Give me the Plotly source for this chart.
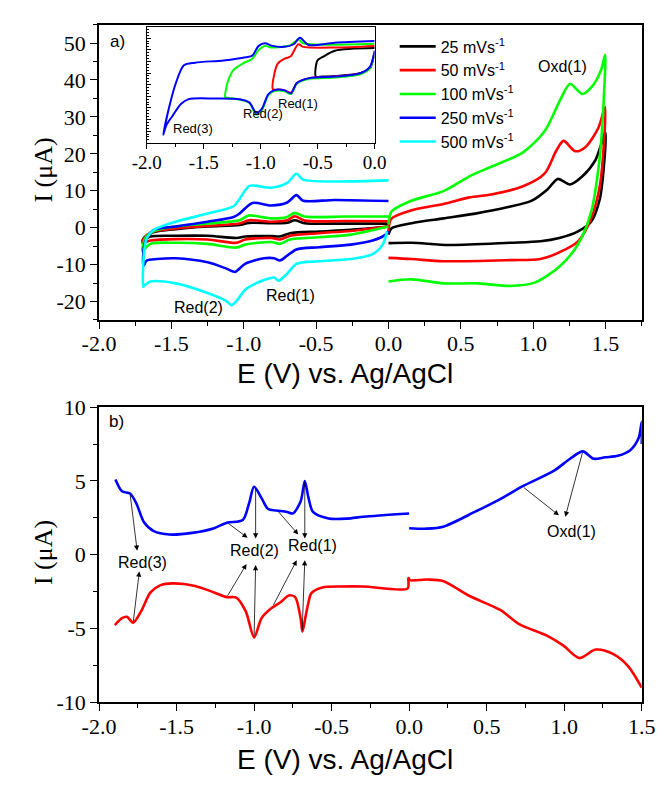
import plotly.graph_objects as go

# ---------------- DATA ----------------
# Panel a) main CVs: left part (0 -> -1.7 -> 0), right part (0 -> 1.5 -> 0)
E_L = [0.0, -0.3, -0.58, -0.647, -0.70, -0.81, -0.965, -1.03, -1.25, -1.47, -1.62, -1.68, -1.70,
       -1.645, -1.47, -1.25, -1.05, -0.99, -0.81, -0.75, -0.68, -0.48, -0.26, 0.0]
I_L_25 = [1.1, 1.1, 1.2, 2.0, 1.3, 1.2, 1.3, 0.7, 0.3, -0.4, -1.2, -2.4, -3.5,
          -2.4, -2.2, -2.2, -2.8, -2.4, -2.3, -2.4, -1.5, -1.05, -0.6, 0.3]
I_L_50 = [1.75, 1.8, 1.9, 3.1, 2.0, 1.6, 2.0, 1.1, 0.5, -0.2, -1.0, -2.4, -4.1,
          -3.5, -3.1, -3.2, -4.1, -3.2, -2.8, -3.2, -2.2, -1.5, -0.9, 0.3]
I_L_100 = [3.0, 3.0, 3.0, 4.0, 2.9, 2.5, 3.3, 2.0, 1.1, 0.3, -0.9, -2.8, -6.3,
           -4.4, -4.1, -4.4, -5.4, -4.6, -3.9, -4.4, -3.2, -2.6, -1.9, 0.3]

E_L_250 = [0.0, -0.37, -0.59, -0.636, -0.70, -0.81, -0.94, -1.03, -1.07, -1.25, -1.47, -1.62, -1.67, -1.69,
           -1.693, -1.67, -1.60, -1.47, -1.25, -1.12, -1.06, -1.03, -0.99, -0.86, -0.79, -0.75, -0.70,
           -0.636, -0.48, -0.26, -0.11, -0.02, 0.0]
I_L_250 = [7.2, 7.5, 7.3, 8.8, 6.8, 6.0, 6.7, 3.8, 2.9, 1.6, 0.3, -0.6, -2.8, -5.4,
           -10.3, -8.9, -8.5, -8.3, -9.4, -11.1, -12.0, -11.1, -9.8, -8.3, -8.3, -8.9, -7.6,
           -5.9, -5.3, -4.6, -3.5, -1.9, -1.0]

E_L_500 = [0.0, -0.373, -0.59, -0.636, -0.70, -0.81, -0.96, -1.03, -1.07, -1.25, -1.47, -1.62, -1.67, -1.69,
           -1.695, -1.69, -1.645, -1.47, -1.25, -1.12, -1.085, -1.05, -0.99, -0.86, -0.79, -0.76, -0.70,
           -0.636, -0.48, -0.26, -0.11, -0.04, -0.01]
I_L_500 = [12.8, 12.5, 13.0, 14.6, 12.1, 10.8, 11.3, 7.7, 5.8, 3.8, 1.6, -0.6, -2.8, -7.2,
           -16.0, -15.8, -14.6, -15.1, -17.7, -19.9, -21.0, -19.9, -16.8, -14.2, -13.5, -14.4, -12.5,
           -9.8, -9.1, -8.5, -7.2, -4.6, -1.0]

E_R_25 = [0.0, 0.02, 0.16, 0.38, 0.6, 0.82, 0.99, 1.1, 1.17, 1.255, 1.34, 1.43, 1.5,
          1.49, 1.46, 1.40, 1.31, 1.18, 1.05, 0.84, 0.42, 0.16, 0.0]
I_R_25 = [-1.9, -0.2, 1.2, 2.5, 3.8, 5.5, 7.3, 10.4, 13.2, 11.7, 13.9, 18.3, 25.7,
          17.4, 7.7, 1.6, -1.0, -2.8, -3.7, -4.1, -4.7, -4.1, -4.2]
E_R_50 = [0.0, 0.02, 0.16, 0.38, 0.56, 0.71, 0.93, 1.08, 1.16, 1.21, 1.29, 1.36, 1.45, 1.497,
          1.49, 1.46, 1.40, 1.31, 1.18, 1.05, 0.84, 0.38, 0.16, 0.0]
I_R_50 = [-1.0, 2.4, 4.7, 6.4, 8.2, 9.0, 11.2, 14.7, 20.9, 23.5, 20.7, 21.8, 27.0, 32.7,
          23.5, 11.2, 2.5, -3.7, -6.7, -8.5, -8.8, -9.1, -8.5, -8.2]
E_R_100 = [0.0, 0.02, 0.16, 0.38, 0.56, 0.71, 0.93, 1.08, 1.19, 1.255, 1.34, 1.41, 1.47, 1.497,
           1.49, 1.46, 1.40, 1.31, 1.18, 1.01, 0.84, 0.62, 0.38, 0.16, 0.0]
I_R_100 = [0.8, 4.3, 7.3, 9.9, 13.9, 16.5, 20.4, 26.2, 34.9, 38.9, 36.2, 38.4, 42.8, 46.8,
           36.7, 19.1, 4.2, -4.5, -10.6, -14.9, -15.8, -15.1, -15.1, -14.0, -14.6]

SCAN_RATES = ["25 mVs<sup>-1</sup>", "50 mVs<sup>-1</sup>", "100 mVs<sup>-1</sup>",
              "250 mVs<sup>-1</sup>", "500 mVs<sup>-1</sup>"]

# Inset (arbitrary current units, no labels)
INS_E_25 = [0.0, -0.349, -0.46, -0.502, -0.516, -0.46, -0.349, -0.126, -0.042, -0.01]
INS_I_25 = [97.7, 95, 88.3, 85, 68.3, 68.3, 69, 71.7, 76.7, 88.3]
INS_E_50 = [0.0, -0.349, -0.628, -0.67, -0.739, -0.795, -0.85, -0.879, -0.893,
            -0.85, -0.795, -0.734, -0.683, -0.572, -0.349, -0.126, -0.042, -0.01]
INS_I_50 = [100, 98.3, 99, 101.7, 89, 86.7, 81.7, 71.7, 55,
            55, 54.3, 51.7, 61.7, 66.7, 68.3, 71.7, 77.5, 90]
INS_E_100 = [0.0, -0.628, -0.67, -0.739, -0.907, -0.962, -1.018, -1.074, -1.158, -1.24, -1.283, -1.305, -1.31,
             -1.24, -1.10, -1.04, -0.99, -0.934, -0.879, -0.795, -0.734, -0.683, -0.572, -0.349, -0.126, -0.042, -0.008]
INS_I_100 = [102.3, 102.7, 106.7, 100.7, 98.3, 100, 95.7, 86.7, 81.7, 75, 65, 55, 46.7,
             45.7, 41, 29, 33.3, 49, 53.3, 53.3, 50.3, 61, 66, 67.3, 70.7, 76.7, 90]
INS_E_250 = [0.0, -0.35, -0.58, -0.656, -0.711, -0.795, -0.907, -0.962, -1.018, -1.074, -1.13, -1.325, -1.576,
             -1.674, -1.744, -1.80, -1.855, -1.827, -1.77, -1.70, -1.632, -1.41, -1.185, -1.10, -1.04, -0.99,
             -0.934, -0.879, -0.795, -0.734, -0.683, -0.572, -0.349, -0.126, -0.042, 0.0]
INS_I_250 = [105, 103.3, 101, 108.3, 101.7, 99, 100.3, 102.7, 100, 90, 88.3, 85, 82.7,
             80, 61.7, 38.3, 8.3, 18.3, 28.3, 40, 45, 45.7, 45, 41.7, 31, 35,
             50, 54.3, 54.3, 51, 61.7, 66.7, 68.3, 71.7, 78.3, 95]

# Panel b)
E_B_BLUE = [-1.894, -1.852, -1.80, -1.76, -1.71, -1.647, -1.545, -1.40, -1.258, -1.176, -1.073, -1.032, -1.0,
            -0.95, -0.91, -0.858, -0.787, -0.75, -0.70, -0.673, -0.65, -0.62, -0.52, -0.40, -0.295, 0.0,
            None, 0.0, 0.116, 0.219, 0.423, 0.587, 0.73, 0.935, 1.038, 1.12, 1.19, 1.264, 1.346, 1.428,
            1.48, 1.5, 1.5]
I_B_BLUE = [5.1, 4.3, 4.15, 3.5, 2.2, 1.6, 1.37, 1.48, 1.8, 2.17, 2.35, 3.5, 4.6,
            3.8, 3.1, 3.0, 2.9, 2.8, 3.6, 5.0, 3.9, 2.9, 2.46, 2.45, 2.57, 2.79,
            None, 1.8, 1.77, 1.9, 2.9, 3.77, 4.63, 5.7, 6.5, 7.0, 6.5, 6.6, 6.7, 7.1,
            7.9, 9.0, 7.5]
E_B_RED = [-1.898, -1.852, -1.82, -1.78, -1.73, -1.668, -1.606, -1.525, -1.38, -1.258, -1.176, -1.115,
           -1.053, -1.0, -0.952, -0.889, -0.827, -0.776, -0.735, -0.70, -0.688, -0.67, -0.653, -0.63,
           -0.56, -0.438, -0.295, -0.01, -0.005, 0.005, 0.116, 0.219, 0.383, 0.587, 0.71, 0.888, 0.993,
           1.098, 1.203, 1.308, 1.413, 1.5]
I_B_RED = [-4.76, -4.29, -4.2, -4.6, -3.85, -2.55, -2.07, -1.94, -2.11, -2.55, -2.87, -2.9,
           -3.85, -5.6, -4.3, -3.63, -3.2, -2.76, -2.87, -4.3, -5.2, -4.3, -3.4, -2.6,
           -2.22, -2.15, -2.15, -2.28, -1.57, -1.72, -1.68, -1.78, -2.76, -3.74, -4.7, -5.48, -6.14,
           -7.0, -6.42, -6.68, -7.55, -9.0]

X_TICKS_A = [-2.0, -1.5, -1.0, -0.5, 0.0, 0.5, 1.0, 1.5]
X_LABELS_A = ["-2.0", "-1.5", "-1.0", "-0.5", "0.0", "0.5", "1.0", "1.5"]
Y_TICKS_A = [-20, -10, 0, 10, 20, 30, 40, 50]
Y_LABELS_A = ["-20", "-10", "0", "10", "20", "30", "40", "50"]
X_TICKS_INS = [-2.0, -1.5, -1.0, -0.5, 0.0]
X_LABELS_INS = ["-2.0", "-1.5", "-1.0", "-0.5", "0.0"]
Y_TICKS_B = [-10, -5, 0, 5, 10]
Y_LABELS_B = ["-10", "-5", "0", "5", "10"]

# ---------------- FIGURE ----------------
W, H = 671, 790
def px(x):
    return x / W
def py(y):
    return 1 - y / H

BLACK, RED, GREEN, BLUE, CYAN = "#000000", "#ff0000", "#00ff00", "#0000ff", "#00ffff"
SM = 0.8
fig = go.Figure()

def join(e1, i1, e2, i2):
    return e1 + [None] + e2, i1 + [None] + i2

series = [
    (BLACK, join(E_L, I_L_25, E_R_25, I_R_25)),
    (RED, join(E_L, I_L_50, E_R_50, I_R_50)),
    (GREEN, join(E_L, I_L_100, E_R_100, I_R_100)),
    (BLUE, (E_L_250, I_L_250)),
    (CYAN, (E_L_500, I_L_500)),
]
for k, (c, (ex, iy)) in enumerate(series):
    fig.add_trace(go.Scatter(x=ex, y=iy, mode="lines", name=SCAN_RATES[k], legendgroup=str(k),
                             line=dict(color=c, width=2.6, shape="spline", smoothing=SM),
                             xaxis="x", yaxis="y"))

for c, ex, iy in [(BLACK, INS_E_25, INS_I_25), (RED, INS_E_50, INS_I_50),
                  (GREEN, INS_E_100, INS_I_100), (BLUE, INS_E_250, INS_I_250)]:
    fig.add_trace(go.Scatter(x=ex, y=iy, mode="lines", showlegend=False,
                             line=dict(color=c, width=2, shape="spline", smoothing=SM),
                             xaxis="x3", yaxis="y3"))

fig.add_trace(go.Scatter(x=E_B_BLUE, y=I_B_BLUE, mode="lines", showlegend=False,
                         line=dict(color=BLUE, width=2.6, shape="spline", smoothing=SM),
                         xaxis="x2", yaxis="y2"))
fig.add_trace(go.Scatter(x=E_B_RED, y=I_B_RED, mode="lines", showlegend=False,
                         line=dict(color=RED, width=2.6, shape="spline", smoothing=SM),
                         xaxis="x2", yaxis="y2"))

SERIF = "Liberation Serif"
SANS = "Liberation Sans"
TICKF = dict(family=SERIF, size=22, color="black")

common = dict(showline=True, linewidth=1.6, linecolor="black", mirror=True, showgrid=False,
              zeroline=False, ticks="outside", ticklen=7, tickwidth=1.4, tickcolor="black",
              tickfont=TICKF)

XDOM = [px(86), px(655)]
fig.update_layout(
    width=W, height=H, margin=dict(l=0, r=0, t=0, b=0),
    paper_bgcolor="white", plot_bgcolor="rgba(0,0,0,0)",
    xaxis=dict(domain=XDOM, anchor="y", range=[-2, 1.75], tickmode="array",
               tickvals=X_TICKS_A, ticktext=X_LABELS_A, ticklabelstandoff=-4,
               minor=dict(tickmode="linear", tick0=-2, dtick=0.25, ticks="outside", ticklen=4,
                          tickwidth=1.2, tickcolor="black"), **common),
    yaxis=dict(domain=[py(318), py(13)], anchor="x", range=[-25, 55], tickmode="array",
               tickvals=Y_TICKS_A, ticktext=Y_LABELS_A,
               minor=dict(tickmode="linear", tick0=-25, dtick=5, ticks="outside", ticklen=4,
                          tickwidth=1.2, tickcolor="black"), **common),
    xaxis2=dict(domain=XDOM, anchor="y2", range=[-2, 1.5], tickmode="array",
                tickvals=X_TICKS_A, ticktext=X_LABELS_A, ticklabelstandoff=-4,
                minor=dict(tickmode="linear", tick0=-2, dtick=0.25, ticks="outside", ticklen=4,
                           tickwidth=1.2, tickcolor="black"), **common),
    yaxis2=dict(domain=[py(713), py(408)], anchor="x2", range=[-10, 10], tickmode="array",
                tickvals=Y_TICKS_B, ticktext=Y_LABELS_B,
                minor=dict(tickmode="linear", tick0=-10, dtick=2.5, ticks="outside", ticklen=4,
                           tickwidth=1.2, tickcolor="black"), **common),
    xaxis3=dict(domain=[px(136), px(375)], anchor="y3", range=[-2, 0], tickmode="array",
                tickvals=X_TICKS_INS, ticktext=X_LABELS_INS, showline=True, linewidth=1.3,
                linecolor="black", mirror=True, showgrid=False, zeroline=False, ticks="outside",
                ticklen=5, tickwidth=1.2, tickcolor="black", ticklabelstandoff=-3,
                tickfont=dict(family=SERIF, size=19, color="black"),
                minor=dict(tickmode="linear", tick0=-2, dtick=0.25, ticks="outside", ticklen=3,
                           tickcolor="black")),
    yaxis3=dict(domain=[py(135), py(15)], anchor="x3", range=[0, 120], showticklabels=False,
                showline=True, linewidth=1.3, linecolor="black", mirror=True, showgrid=False,
                zeroline=False, ticks="inside", ticklen=4, tickwidth=1, tickcolor="black",
                tickmode="linear", tick0=0, dtick=12,
                minor=dict(tickmode="linear", tick0=0, dtick=3, ticks="inside", ticklen=2,
                           tickcolor="black")),
    legend=dict(x=px(396), y=py(18), xanchor="left", yanchor="top", bgcolor="rgba(0,0,0,0)",
                font=dict(family=SANS, size=16, color="black"), tracegroupgap=0,
                itemwidth=36),
    showlegend=True,
)

ann = []
def txt(x, y, t, xr, yr, size=16, family=SANS):
    ann.append(dict(x=x, y=y, xref=xr, yref=yr, text=t, showarrow=False,
                    xanchor="center", yanchor="middle",
                    font=dict(family=family, size=size, color="black")))

# panel a labels
txt(-1.87, 50.5, "a)", "x", "y", 17)
txt(1.204, 43.6, "Oxd(1)", "x", "y", 16)
txt(-1.316, -21.7, "Red(2)", "x", "y", 16)
txt(-0.678, -18.5, "Red(1)", "x", "y", 16)
# inset labels
txt(-1.59, 15, "Red(3)", "x3", "y3", 13)
txt(-0.979, 30, "Red(2)", "x3", "y3", 13)
txt(-0.669, 40, "Red(1)", "x3", "y3", 13)
# panel b labels
txt(-1.885, 9.0, "b)", "x2", "y2", 17)
txt(-1.72, -0.54, "Red(3)", "x2", "y2", 16)
txt(-1.0, 0.28, "Red(2)", "x2", "y2", 16)
txt(-0.622, 0.61, "Red(1)", "x2", "y2", 16)
txt(1.049, 1.59, "Oxd(1)", "x2", "y2", 16)

# arrows panel b: (head_x, head_y, tail_x, tail_y)
ARROWS = [
    (-1.754, 0.28, -1.80, 4.15), (-1.74, -1.13, -1.78, -4.6),
    (-1.042, 1.15, -1.176, 2.2), (-0.99, 1.1, -0.99, 4.6),
    (-1.049, -0.63, -1.176, -2.87), (-0.99, -0.7, -1.0, -5.6),
    (-0.715, 1.37, -0.85, 3.0), (-0.673, 1.1, -0.673, 5.0),
    (-0.725, -0.37, -0.88, -3.5), (-0.673, -0.37, -0.69, -5.2),
    (0.966, 2.67, 0.73, 4.63), (1.007, 2.57, 1.12, 7.0),
]
for hx, hy, tx, ty in ARROWS:
    ann.append(dict(x=hx, y=hy, ax=tx, ay=ty, xref="x2", yref="y2", axref="x2", ayref="y2",
                    text="", showarrow=True, arrowhead=2, arrowsize=1.3, arrowwidth=0.8,
                    arrowcolor="black"))

# axis titles
for yc in (163, 558):
    ann.append(dict(x=px(28), y=py(yc), xref="paper", yref="paper", text="I (μA)", textangle=-90,
                    xanchor="center", yanchor="middle",
                    showarrow=False, font=dict(family=SERIF, size=26, color="black")))
for yc in (373, 772):
    ann.append(dict(x=px(344), y=py(yc), xref="paper", yref="paper", text="E (V) vs. Ag/AgCl",
                    xanchor="center", yanchor="middle",
                    showarrow=False, font=dict(family=SANS, size=28, color="black")))

fig.update_layout(annotations=ann)
fig.write_html("out.html")
